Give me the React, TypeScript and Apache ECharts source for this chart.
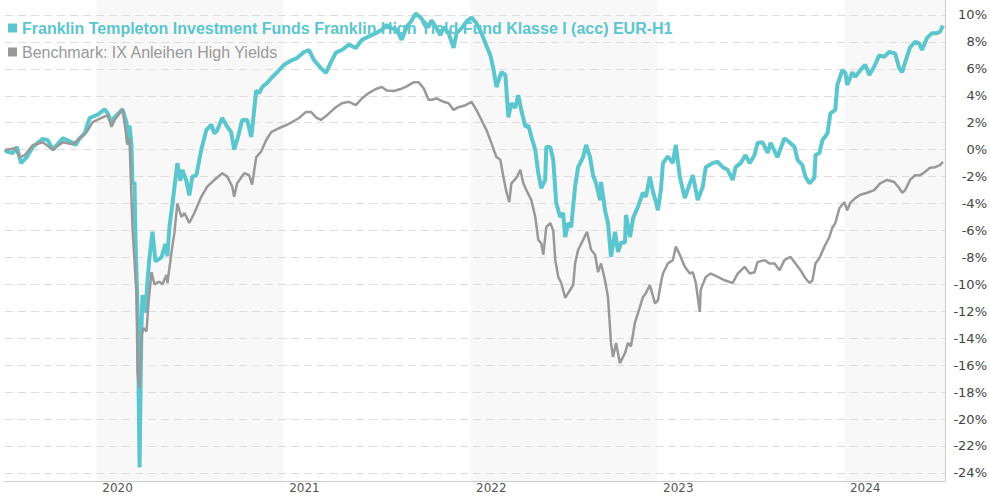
import React, { useEffect, useRef } from "react";
import * as echarts from "echarts";

const FUND_NAME =
  "Franklin Templeton Investment Funds Franklin High Yield Fund Klasse I (acc) EUR-H1";
const BENCH_NAME = "Benchmark: IX Anleihen High Yields";

const FUND_COLOR = "#5bc6cd";
const BENCH_COLOR = "#999999";

// x values are decimal years
const yearLabels = [2020, 2021, 2022, 2023, 2024];
const yearLabelPositions = [2020.112, 2021.112, 2022.112, 2023.112, 2024.112];
const percentTicks = [-24, -22, -20, -18, -16, -14, -12, -10, -8, -6, -4, -2, 0, 2, 4, 6, 8, 10];
const shadedYears: [number, number][] = [
  [2020, 2021],
  [2022, 2023],
  [2024, 2024.54],
];

const fundDates = [
  2019.51, 2019.52, 2019.552, 2019.574, 2019.595, 2019.627, 2019.659, 2019.712, 2019.739, 2019.766,
  2019.819, 2019.867, 2019.888, 2019.91, 2019.936, 2019.963, 2020.006, 2020.043, 2020.059, 2020.08,
  2020.096, 2020.139, 2020.16, 2020.166, 2020.176, 2020.187, 2020.192, 2020.203, 2020.208, 2020.216,
  2020.222, 2020.225, 2020.23, 2020.235, 2020.24, 2020.246, 2020.262, 2020.272, 2020.283, 2020.299,
  2020.315, 2020.347, 2020.368, 2020.379, 2020.39, 2020.406, 2020.432, 2020.448, 2020.459, 2020.48,
  2020.496, 2020.512, 2020.534, 2020.56, 2020.587, 2020.614, 2020.63, 2020.646, 2020.672, 2020.699,
  2020.72, 2020.736, 2020.752, 2020.779, 2020.806, 2020.827, 2020.832, 2020.854, 2020.87, 2020.886,
  2020.912, 2020.934, 2020.966, 2021.003, 2021.046, 2021.072, 2021.11, 2021.136, 2021.163, 2021.2,
  2021.227, 2021.254, 2021.28, 2021.312, 2021.35, 2021.387, 2021.419, 2021.456, 2021.494, 2021.526,
  2021.552, 2021.579, 2021.606, 2021.632, 2021.659, 2021.686, 2021.707, 2021.734, 2021.75, 2021.776,
  2021.792, 2021.819, 2021.84, 2021.856, 2021.883, 2021.91, 2021.926, 2021.952, 2021.979, 2022.006,
  2022.032, 2022.059, 2022.08, 2022.107, 2022.123, 2022.139, 2022.166, 2022.187, 2022.203, 2022.219,
  2022.24, 2022.256, 2022.272, 2022.294, 2022.31, 2022.326, 2022.347, 2022.363, 2022.379, 2022.4,
  2022.406, 2022.427, 2022.443, 2022.459, 2022.48, 2022.496, 2022.507, 2022.523, 2022.539, 2022.56,
  2022.576, 2022.603, 2022.619, 2022.64, 2022.656, 2022.672, 2022.694, 2022.699, 2022.72, 2022.736,
  2022.752, 2022.774, 2022.79, 2022.806, 2022.827, 2022.832, 2022.854, 2022.87, 2022.896, 2022.923,
  2022.939, 2022.96, 2022.976, 2022.992, 2023.003, 2023.019, 2023.03, 2023.056, 2023.083, 2023.099,
  2023.12, 2023.147, 2023.174, 2023.19, 2023.216, 2023.243, 2023.259, 2023.296, 2023.323, 2023.35,
  2023.376, 2023.403, 2023.419, 2023.446, 2023.472, 2023.494, 2023.52, 2023.536, 2023.563, 2023.59,
  2023.606, 2023.643, 2023.68, 2023.707, 2023.734, 2023.75, 2023.776, 2023.792, 2023.814, 2023.84,
  2023.846, 2023.867, 2023.883, 2023.91, 2023.926, 2023.952, 2023.963, 2023.99, 2024.006, 2024.016,
  2024.043, 2024.059, 2024.086, 2024.112, 2024.134, 2024.16, 2024.187, 2024.214, 2024.24, 2024.272,
  2024.294, 2024.31, 2024.326, 2024.352, 2024.379, 2024.4, 2024.416, 2024.443, 2024.47, 2024.496,
  2024.512, 2024.528,
];
const fundValues = [
  0, -0.15, -0.25, 0.2, -1.0, -0.55, 0.2, 0.8, 0.7, 0.0,
  0.85, 0.55, 0.35, 0.85, 1.2, 2.35, 2.6, 3.0, 2.7, 2.05,
  2.4, 3.0, 2.0, 0.5, 1.8, 0.35, -2.6, -2.4, -6.6, -10.3,
  -13.2, -18.2, -23.6, -18.0, -13.2, -10.8, -12.1, -9.8, -8.0, -6.1,
  -8.3, -8.0, -7.0, -7.9, -5.7, -4.0, -1.0, -2.3, -1.5, -2.3,
  -3.4, -2.0, -1.9, 0.0, 1.45, 1.85, 1.2, 1.45, 2.35, 1.7,
  1.3, 0.0, 0.7, 2.2, 2.2, 0.95, 1.45, 4.4, 4.2, 4.65,
  4.95, 5.3, 5.75, 6.3, 6.65, 6.8, 7.25, 7.4, 6.65, 6.05,
  5.7, 6.5, 7.2, 7.4, 7.8, 7.55, 8.15, 8.4, 8.65, 8.9,
  9.25, 9.0, 8.9, 8.15, 9.1, 9.6, 10.1, 9.8, 9.5, 9.1,
  9.6, 9.0, 8.5, 9.1, 8.65, 7.55, 8.65, 9.0, 9.5, 9.8,
  9.4, 8.65, 7.9, 7.0, 6.0, 4.65, 5.75, 5.55, 2.4, 3.45,
  3.1, 4.05, 2.95, 1.7, 1.8, 0.95, 0.0, -1.75, -2.85, -2.25,
  0.2, 0.2, -0.75, -3.95, -5.0, -4.7, -6.5, -5.45, -5.75, -2.75,
  -1.3, -0.55, 0.35, -0.55, -1.9, -2.5, -3.75, -2.4, -4.5, -5.45,
  -7.95, -6.1, -7.6, -6.9, -6.9, -4.85, -6.5, -5.1, -4.25, -3.2,
  -3.5, -2.0, -3.1, -3.85, -4.5, -3.0, -1.0, -0.5, -1.0, 0.35,
  -2.0, -3.6, -2.5, -1.9, -3.75, -2.75, -1.3, -1.0, -0.9, -1.3,
  -1.5, -2.25, -1.3, -1.0, -0.4, -1.0, -0.4, 0.5, 0.55, -0.25,
  0.5, -0.55, 0.85, 0.55, 0.2, -0.75, -1.15, -2.0, -2.5, -2.1,
  -0.4, -0.25, 0.7, 1.2, 2.7, 2.95, 4.8, 5.9, 5.7, 4.8,
  5.75, 5.4, 5.9, 6.3, 5.55, 6.15, 7.0, 6.9, 7.25, 7.15,
  6.05, 5.75, 6.5, 7.6, 8.0, 7.9, 7.4, 8.3, 8.65, 8.65,
  8.75, 9.2,
];

const benchDates = [
  2019.51, 2019.52, 2019.563, 2019.59, 2019.616, 2019.659, 2019.712, 2019.766, 2019.819, 2019.872,
  2019.91, 2019.947, 2019.979, 2020.032, 2020.059, 2020.08, 2020.096, 2020.139, 2020.166, 2020.176,
  2020.192, 2020.214, 2020.219, 2020.23, 2020.24, 2020.251, 2020.267, 2020.278, 2020.294, 2020.31,
  2020.336, 2020.352, 2020.374, 2020.379, 2020.4, 2020.416, 2020.432, 2020.454, 2020.47, 2020.496,
  2020.523, 2020.56, 2020.592, 2020.63, 2020.672, 2020.699, 2020.726, 2020.736, 2020.752, 2020.79,
  2020.816, 2020.832, 2020.854, 2020.88, 2020.907, 2020.934, 2020.976, 2021.019, 2021.046, 2021.083,
  2021.12, 2021.147, 2021.174, 2021.2, 2021.232, 2021.259, 2021.28, 2021.312, 2021.35, 2021.387,
  2021.419, 2021.456, 2021.494, 2021.526, 2021.552, 2021.59, 2021.627, 2021.659, 2021.696, 2021.723,
  2021.75, 2021.776, 2021.792, 2021.819, 2021.856, 2021.883, 2021.91, 2021.936, 2021.974, 2022.006,
  2022.032, 2022.059, 2022.086, 2022.112, 2022.139, 2022.16, 2022.176, 2022.192, 2022.208, 2022.219,
  2022.246, 2022.267, 2022.283, 2022.299, 2022.326, 2022.347, 2022.363, 2022.379, 2022.39, 2022.406,
  2022.427, 2022.443, 2022.454, 2022.47, 2022.486, 2022.507, 2022.534, 2022.55, 2022.56, 2022.576,
  2022.603, 2022.624, 2022.646, 2022.667, 2022.683, 2022.699, 2022.72, 2022.736, 2022.752, 2022.763,
  2022.779, 2022.8, 2022.827, 2022.843, 2022.859, 2022.88, 2022.896, 2022.923, 2022.939, 2022.96,
  2022.987, 2023.003, 2023.019, 2023.03, 2023.056, 2023.083, 2023.099, 2023.12, 2023.147, 2023.174,
  2023.19, 2023.206, 2023.227, 2023.232, 2023.259, 2023.286, 2023.323, 2023.36, 2023.403, 2023.43,
  2023.467, 2023.494, 2023.52, 2023.536, 2023.574, 2023.6, 2023.627, 2023.654, 2023.68, 2023.712,
  2023.739, 2023.766, 2023.792, 2023.814, 2023.83, 2023.846, 2023.867, 2023.894, 2023.92, 2023.936,
  2023.952, 2023.974, 2024.0, 2024.016, 2024.032, 2024.059, 2024.086, 2024.123, 2024.16, 2024.192,
  2024.23, 2024.267, 2024.294, 2024.31, 2024.326, 2024.352, 2024.379, 2024.406, 2024.432, 2024.459,
  2024.486, 2024.512, 2024.528,
];
const benchValues = [
  0, 0, 0.1, -0.55, -0.4, 0.35, 0.55, 0.0, 0.55, 0.4,
  0.85, 1.3, 2.05, 2.4, 2.55, 1.7, 2.2, 3.0, 0.35, 0.85,
  -5.8, -10.8, -16.5, -17.7, -13.8, -13.25, -13.5, -11.3, -9.1, -10.0,
  -9.8, -10.0, -9.3, -9.9, -7.7, -6.2, -4.0, -5.0, -4.7, -5.45,
  -4.7, -3.5, -2.75, -2.25, -1.75, -2.0, -2.75, -3.5, -2.5, -1.75,
  -1.9, -2.6, -0.55, -0.15, 0.7, 1.3, 1.6, 1.85, 2.05, 2.35,
  2.8, 2.8, 2.4, 2.2, 2.55, 2.9, 3.15, 3.45, 3.55, 3.3,
  3.8, 4.2, 4.5, 4.65, 4.4, 4.35, 4.5, 4.7, 5.0, 5.0,
  4.55, 3.7, 3.7, 3.8, 3.55, 3.45, 2.95, 3.15, 3.3, 3.55,
  2.95, 2.2, 1.45, 0.5, -0.55, -0.75, -2.0, -3.1, -3.9, -2.5,
  -2.1, -1.5, -2.5, -3.0, -3.75, -5.0, -6.7, -6.95, -7.8, -5.75,
  -5.45, -6.0, -8.2, -9.45, -9.9, -11.0, -10.4, -10.05, -8.45, -7.45,
  -6.7, -6.1, -7.45, -7.8, -9.1, -8.45, -9.7, -10.95, -14.35, -15.4,
  -14.35, -15.85, -15.1, -14.35, -14.6, -12.85, -12.15, -10.95, -10.65, -10.05,
  -11.4, -11.2, -9.9, -9.2, -8.45, -8.2, -7.2, -7.8, -8.7, -9.2,
  -9.1, -9.9, -12.05, -10.4, -9.45, -9.2, -9.45, -9.7, -9.9, -9.2,
  -8.7, -9.2, -9.1, -8.35, -8.2, -8.45, -8.45, -8.95, -8.2, -7.95,
  -8.45, -8.95, -9.55, -9.9, -9.7, -8.45, -8.05, -7.2, -6.5, -5.8,
  -5.45, -4.35, -3.9, -4.5, -3.95, -3.6, -3.35, -3.2, -3.0, -2.5,
  -2.25, -2.4, -2.85, -3.2, -3.0, -2.25, -1.9, -1.9, -1.65, -1.35,
  -1.3, -1.15, -0.9,
];

const X_MIN = 2019.51;
const X_MAX = 2024.539;
const Y_MIN = -24.6;
const Y_MAX = 11.11;

export default function App() {
  const ref = useRef<HTMLDivElement>(null);

  useEffect(() => {
    if (!ref.current) return;
    const chart = echarts.init(ref.current, null, { renderer: "svg" });
    const fundData = fundDates.map((d, i) => [d, fundValues[i]]);
    const benchData = benchDates.map((d, i) => [d, benchValues[i]]);
    const labelFont = '"DejaVu Sans", Verdana, sans-serif';
    const legendFont = 'Arial, "Liberation Sans", sans-serif';

    chart.setOption({
      animation: false,
      backgroundColor: "#ffffff",
      grid: { left: 5, right: 42, top: 0, bottom: 19, containLabel: false },
      legend: {
        orient: "vertical",
        left: 3,
        top: 15,
        z: 2,
        icon: "rect",
        itemWidth: 9,
        itemHeight: 9,
        itemGap: 8,
        itemTextGap: 5,
        selectedMode: false,
        textStyle: { fontSize: 16, fontFamily: legendFont },
        data: [
          { name: FUND_NAME, textStyle: { color: FUND_COLOR, fontWeight: "bold", fontSize: 16 } },
          { name: BENCH_NAME, textStyle: { color: "#999999", fontWeight: "normal", fontSize: 16 } },
        ],
      },
      xAxis: {
        type: "value",
        min: X_MIN,
        max: X_MAX,
        z: 2,
        axisLine: { show: true, onZero: false, lineStyle: { color: "#cccccc", width: 1 } },
        axisTick: { show: false },
        splitLine: { show: false },
        axisLabel: {
          customValues: yearLabelPositions,
          formatter: (v: number) => {
            const idx = yearLabelPositions.findIndex((p) => Math.abs(p - v) < 0.01);
            return idx >= 0 ? String(yearLabels[idx]) : "";
          },
          color: "#555555",
          fontSize: 12,
          fontFamily: labelFont,
          margin: 1,
        },
      },
      yAxis: {
        type: "value",
        position: "right",
        min: Y_MIN,
        max: Y_MAX,
        z: 2,
        axisLine: { show: true, onZero: false, lineStyle: { color: "#cccccc", width: 1 } },
        axisTick: { show: false, customValues: percentTicks },
        axisLabel: {
          customValues: percentTicks,
          formatter: (v: number) => `${v}%`,
          align: "right",
          margin: 42,
          color: "#444444",
          fontSize: 13,
          fontFamily: labelFont,
        },
        splitLine: {
          show: true,
          lineStyle: { color: "#dddddd", width: 1, type: [8, 5] },
        },
      },
      series: [
        {
          type: "line",
          data: [],
          z: 1,
          silent: true,
          markArea: {
            silent: true,
            itemStyle: { color: "#f8f8f8" },
            data: shadedYears.map(([a, b]) => [{ xAxis: a }, { xAxis: b }]),
          },
        },
        {
          type: "line",
          name: FUND_NAME,
          data: fundData,
          z: 3,
          showSymbol: false,
          symbol: "none",
          lineStyle: { color: FUND_COLOR, width: 4 },
          itemStyle: { color: FUND_COLOR },
        },
        {
          type: "line",
          name: BENCH_NAME,
          data: benchData,
          z: 4,
          showSymbol: false,
          symbol: "none",
          lineStyle: { color: BENCH_COLOR, width: 2.5 },
          itemStyle: { color: BENCH_COLOR },
        },
      ],
    });

    return () => chart.dispose();
  }, []);

  return (
    <div
      ref={ref}
      style={{ position: "fixed", left: 0, top: 0, width: 990, height: 500 }}
    />
  );
}
